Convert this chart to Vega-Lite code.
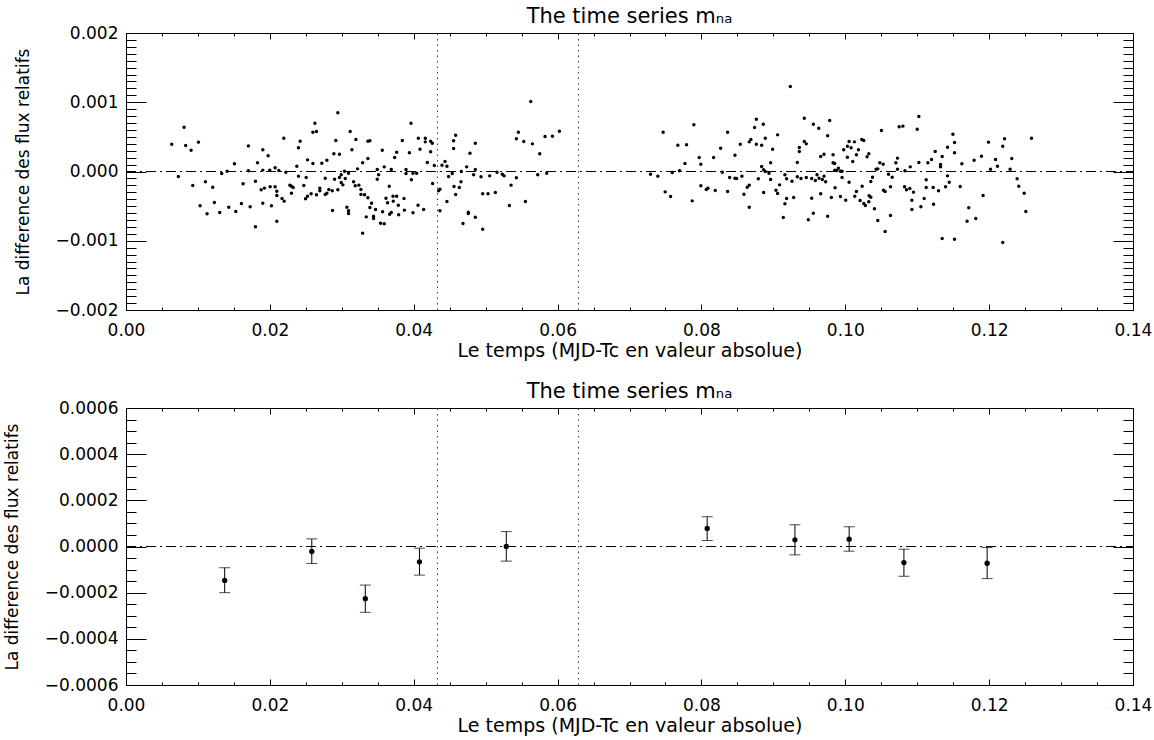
{
  "$schema": "https://vega.github.io/schema/vega-lite/v6.json",
  "padding": {"left": 2, "top": 5, "right": 18, "bottom": 0},
  "config": {
    "font": "DejaVu Sans",
    "view": {"stroke": "black", "strokeWidth": 1},
    "axis": {"domainColor": "black", "tickColor": "black", "labelColor": "black", "titleColor": "black", "labelFont": "DejaVu Sans", "titleFont": "DejaVu Sans", "labelFontSize": 17, "titleFontSize": 17, "titleFontWeight": "normal", "grid": false, "labelFlush": false, "labelOverlap": false, "labelBound": false},
    "axisX": {"titleFontSize": 19},
    "title": {"font": "DejaVu Sans", "fontSize": 21, "fontWeight": "normal", "color": "black", "offset": -3}
  },
  "spacing": 19,
  "datasets": {
    "top": [
      {"t":0.00636,"d":0.000395},{"t":0.00807,"d":0.00064},{"t":0.0083,"d":0.000375},{"t":0.00905,"d":0.000308},{"t":0.01007,"d":0.000424},{"t":0.00728,"d":-0.000072},{"t":0.00928,"d":-0.000202},{"t":0.0103,"d":-0.000496},{"t":0.01104,"d":-0.000149},{"t":0.01127,"d":-0.000611},{"t":0.01206,"d":-0.000226},{"t":0.01229,"d":-0.000448},{"t":0.01303,"d":-0.000592},{"t":0.01331,"d":-0.000029},{"t":0.01406,"d":0.000005},{"t":0.01429,"d":-0.000515},{"t":0.01508,"d":0.000111},{"t":0.01526,"d":-0.000578},{"t":0.01605,"d":-0.000462},{"t":0.01628,"d":-0.000178},{"t":0.01702,"d":0.00037},{"t":0.01702,"d":0.00001},{"t":0.01726,"d":-0.00051},{"t":0.018,"d":-0.000799},{"t":0.018,"d":-0.00014},{"t":0.01828,"d":0.000125},{"t":0.01879,"d":-0.000265},{"t":0.01902,"d":0.000313},{"t":0.01902,"d":0.00002},{"t":0.01902,"d":-0.000457},{"t":0.01925,"d":-0.00024},{"t":0.01976,"d":0.000226},{"t":0.01999,"d":0.00002},{"t":0.02004,"d":-0.000221},{"t":0.02022,"d":-0.000496},{"t":0.02073,"d":0.000053},{"t":0.02073,"d":-0.000221},{"t":0.02097,"d":-0.000284},{"t":0.02097,"d":-0.000347},{"t":0.02097,"d":-0.000717},{"t":0.02125,"d":0.000014},{"t":0.02169,"d":-0.00039},{"t":0.02194,"d":0.000481},{"t":0.02199,"d":-0.000428},{"t":0.02222,"d":-0.00001},{"t":0.02278,"d":-0.000197},{"t":0.023,"d":-0.000313},{"t":0.023,"d":-0.000212},{"t":0.02324,"d":-0.000231},{"t":0.02375,"d":0.000077},{"t":0.02398,"d":0.000342},{"t":0.02398,"d":-0.000067},{"t":0.02421,"d":0.000438},{"t":0.02472,"d":-0.000202},{"t":0.02496,"d":-0.000395},{"t":0.02505,"d":-0.000087},{"t":0.02524,"d":0.000168},{"t":0.02524,"d":-0.000356},
      {"t":0.02574,"d":-0.000322},{"t":0.02626,"d":0.000698},{"t":0.02598,"d":0.000568},{"t":0.02648,"d":0.000578},{"t":0.02598,"d":0.000116},{"t":0.02695,"d":-0.000241},{"t":0.02695,"d":-0.000279},{"t":0.02648,"d":-0.000337},{"t":0.02723,"d":0.00012},{"t":0.0277,"d":-0.000096},{"t":0.0277,"d":-0.000332},{"t":0.02793,"d":0.000164},{"t":0.02793,"d":-0.000313},{"t":0.0282,"d":-0.00026},{"t":0.02867,"d":-0.000279},{"t":0.02871,"d":-0.000563},{"t":0.0289,"d":0.000255},{"t":0.02899,"d":-0.000111},{"t":0.02917,"d":0.000448},{"t":0.02945,"d":0.000847},{"t":0.02945,"d":-0.000265},{"t":0.02968,"d":0.00025},{"t":0.02968,"d":-0.000087},{"t":0.02992,"d":-0.000048},{"t":0.02992,"d":-0.000159},{"t":0.03015,"d":-0.000193},{"t":0.03039,"d":0.000005},{"t":0.03048,"d":-0.000101},{"t":0.03071,"d":-0.000515},{"t":0.03094,"d":-0.000568},{"t":0.03094,"d":-0.000606},{"t":0.03094,"d":-0.000024},{"t":0.03117,"d":0.000578},{"t":0.03141,"d":0.000313},{"t":0.03164,"d":-0.000149},{"t":0.03187,"d":-0.000207},{"t":0.03196,"d":0.000462},{"t":0.03219,"d":0.000038},{"t":0.03238,"d":-0.000197},{"t":0.03266,"d":-0.00026},{"t":0.03266,"d":-0.000332},{"t":0.0329,"d":0.000125},{"t":0.0329,"d":-0.00089},{"t":0.03317,"d":-0.000337},{"t":0.0334,"d":-0.000655},{"t":0.03363,"d":0.000438},{"t":0.03363,"d":0.000188},{"t":0.03363,"d":-0.00038},{"t":0.03391,"d":0.000443},{"t":0.03391,"d":-0.00052},{"t":0.03414,"d":-0.000457},{"t":0.03442,"d":-0.000645},{"t":0.03442,"d":-0.000679},{"t":0.0347,"d":-0.000549},{"t":0.03493,"d":0.000029},{"t":0.03493,"d":-0.000111},{"t":0.03512,"d":-0.000048},{"t":0.0354,"d":-0.000746},{"t":0.03563,"d":0.000308},{"t":0.03567,"d":-0.000582},{"t":0.0359,"d":-0.000756},{"t":0.0359,"d":0.000067},{"t":0.03614,"d":-0.000385},{"t":0.03637,"d":-0.000452},{"t":0.0366,"d":-0.000212},{"t":0.03665,"d":-0.000616},{"t":0.03688,"d":-0.000592},{"t":0.03688,"d":0.000029},{"t":0.03712,"d":-0.000356},{"t":0.03716,"d":-0.000428},{"t":0.03735,"d":0.000202},{"t":0.03763,"d":0.000279},{"t":0.03763,"d":-0.000356},{"t":0.03786,"d":-0.000486},{"t":0.03791,"d":-0.000626},{"t":0.03842,"d":0.000448},{"t":0.03865,"d":-0.00039},{"t":0.0387,"d":-0.000558},{"t":0.03893,"d":0.000029},{"t":0.03893,"d":-0.000029},{"t":0.0394,"d":0.00027},{"t":0.03962,"d":0.000698},{"t":0.03967,"d":-0.00012},{"t":0.0399,"d":-0.000597},{"t":0.0399,"d":-0.000024},{"t":0.04041,"d":-0.000024},{"t":0.0406,"d":-0.000486},{"t":0.04064,"d":0.000481},{"t":0.04087,"d":0.000322},{"t":0.04138,"d":-0.000549},{"t":0.04161,"d":0.000481},{"t":0.04161,"d":0.000428},{"t":0.04189,"d":0.00013},{"t":0.04235,"d":0.000438},{"t":0.04235,"d":0.000284},{"t":0.04258,"d":0.000409},{"t":0.04263,"d":-0.000173},{"t":0.04286,"d":0.000087},{"t":0.04346,"d":-0.000279},{"t":0.04365,"d":-0.000255},{"t":0.04365,"d":-0.000568},{"t":0.04393,"d":0.000091},{"t":0.04435,"d":0.000144},{"t":0.04462,"d":0.000077},{"t":0.04462,"d":-0.000433},{"t":0.04485,"d":-0.000072},{"t":0.04536,"d":-0.000029},{"t":0.04555,"d":0.000332},{"t":0.04555,"d":0.000443},{"t":0.04583,"d":0.000525},{"t":0.0456,"d":-0.000217},{"t":0.04583,"d":-0.000332},{"t":0.04634,"d":-0.000231},{"t":0.04657,"d":-0.000149},{"t":0.04662,"d":0},{"t":0.04685,"d":-0.000751},{"t":0.04736,"d":0.000067},{"t":0.04759,"d":-0.000587},{"t":0.04759,"d":-0.000606},{"t":0.04782,"d":0.000265},{"t":0.04833,"d":-0.000048},{"t":0.04856,"d":-0.00066},{"t":0.04856,"d":0.000409},{"t":0.04856,"d":0.000029},
      {"t":0.04936,"d":-0.000077},{"t":0.04959,"d":-0.000322},{"t":0.04959,"d":-0.000833},{"t":0.05033,"d":-0.000322},{"t":0.05056,"d":-0.000063},{"t":0.05135,"d":-0.000303},{"t":0.05158,"d":-0.00001},{"t":0.05232,"d":-0.000039},{"t":0.05256,"d":-0.000063},{"t":0.0533,"d":-0.000491},{"t":0.05353,"d":-0.000197},{"t":0.05427,"d":0.000472},{"t":0.05427,"d":-0.000091},{"t":0.05455,"d":0.000568},{"t":0.0553,"d":0.000433},{"t":0.05553,"d":-0.000433},{"t":0.05627,"d":0.00101},{"t":0.0565,"d":0.000399},{"t":0.05724,"d":-0.000048},{"t":0.05752,"d":0.000255},{"t":0.05826,"d":0.000505},{"t":0.05849,"d":-0.000024},{"t":0.05928,"d":0.00051},{"t":0.06025,"d":0.000582},
      {"t":0.07292,"d":-0.000039},{"t":0.07394,"d":-0.000067},{"t":0.07468,"d":0.000568},{"t":0.07496,"d":-0.000294},{"t":0.07571,"d":-0.000361},{"t":0.07594,"d":-0.000014},{"t":0.07672,"d":0.00038},{"t":0.07696,"d":0.00001},{"t":0.07771,"d":0.000116},{"t":0.07793,"d":0.000385},{"t":0.07872,"d":-0.000424},{"t":0.07895,"d":0.000674},{"t":0.07969,"d":0.000202},{"t":0.07992,"d":0.000106},{"t":0.07992,"d":-0.000207},{"t":0.08067,"d":-0.00026},{"t":0.0809,"d":-0.000241},{"t":0.08169,"d":0.000202},{"t":0.08192,"d":-0.000274},{"t":0.08267,"d":0.000337},{"t":0.0829,"d":-0.00001},{"t":0.08364,"d":0.000568},{"t":0.08364,"d":-0.000289},{"t":0.08392,"d":-0.000087},{"t":0.08466,"d":0.000236},{"t":0.08466,"d":-0.000096},{"t":0.08489,"d":-0.000101},{"t":0.0854,"d":0.000395},{"t":0.08563,"d":-0.000067},{"t":0.08591,"d":-0.000327},{"t":0.08637,"d":-0.000226},{"t":0.08665,"d":-0.000515},{"t":0.08665,"d":0.000428},{"t":0.08665,"d":-0.000197},{"t":0.08688,"d":0.000462},{"t":0.08739,"d":0.000635},{"t":0.08763,"d":0.000756},{"t":0.08763,"d":0.000395},{"t":0.08791,"d":-0.000106},{"t":0.08837,"d":0.00038},{"t":0.08837,"d":0.000072},{"t":0.0886,"d":0.000683},{"t":0.08865,"d":-0.000303},{"t":0.08865,"d":0.000024},{"t":0.08888,"d":0.000481},{"t":0.08888,"d":0},{"t":0.08939,"d":-0.000024},{"t":0.08962,"d":0.000125},{"t":0.08962,"d":-0.000116},{"t":0.0899,"d":0.000322},{"t":0.09036,"d":-0.00027},{"t":0.09059,"d":0.000529},{"t":0.09059,"d":-0.000318},{"t":0.09087,"d":-0.000193},{"t":0.09138,"d":-0.000664},{"t":0.09161,"d":-0.000048},{"t":0.09161,"d":-0.000467},{"t":0.09184,"d":-0.000106},{"t":0.09184,"d":-0.00039},{"t":0.09236,"d":0.001227},{"t":0.09259,"d":-0.00014},{"t":0.09282,"d":-0.000375},{"t":0.09333,"d":0.00013},{"t":0.09333,"d":-0.000077},{"t":0.09361,"d":0.000289},{"t":0.09361,"d":0.000347},{"t":0.09384,"d":-0.000101},{"t":0.0943,"d":0.000433},{"t":0.0943,"d":0.00077},{"t":0.09458,"d":0.000399},{"t":0.09458,"d":-0.000087},{"t":0.09486,"d":-0.000698},{"t":0.09533,"d":-0.000385},{"t":0.09533,"d":-0.000101},{"t":0.09556,"d":0.000683},{"t":0.09556,"d":-0.000602},{"t":0.09584,"d":-0.00013},{"t":0.09607,"d":-0.000048},{"t":0.09631,"d":0.000626},{"t":0.09635,"d":-0.000096},
      {"t":0.09658,"d":0.000217},{"t":0.09658,"d":-0.000322},{"t":0.09681,"d":-0.000116},{"t":0.09704,"d":0.00025},{"t":0.09704,"d":-0.000067},{"t":0.09727,"d":-0.000149},{"t":0.09755,"d":0.000515},{"t":0.09755,"d":-0.000645},{"t":0.09783,"d":0.000736},{"t":0.09806,"d":-0.000375},{"t":0.0983,"d":0.000241},{"t":0.0983,"d":0.000125},{"t":0.09853,"d":0.000116},{"t":0.09853,"d":0.000019},{"t":0.09858,"d":-0.000236},{"t":0.09881,"d":0.000014},{"t":0.09904,"d":0.000048},{"t":0.09932,"d":-0.000361},{"t":0.09932,"d":0.000005},{"t":0.09955,"d":-0.000087},{"t":0.09955,"d":0.000005},{"t":0.09978,"d":0.000313},{"t":0.10006,"d":-0.000414},{"t":0.10029,"d":0.000366},{"t":0.10029,"d":0.000207},{"t":0.10053,"d":-0.000154},{"t":0.10053,"d":0.000433},{"t":0.10081,"d":0.000342},{"t":0.10104,"d":0.000144},{"t":0.10127,"d":0.000428},{"t":0.10132,"d":-0.000356},{"t":0.10155,"d":-0.000289},{"t":0.10155,"d":0.000241},{"t":0.10183,"d":0.000313},{"t":0.10206,"d":-0.000419},{"t":0.10229,"d":0.000462},{"t":0.10234,"d":-0.000212},{"t":0.10257,"d":0.000448},{"t":0.10257,"d":-0.000462},{"t":0.1028,"d":-0.000491},{"t":0.10303,"d":0.000212},{"t":0.10327,"d":0.000255},{"t":0.10327,"d":-0.000438},{"t":0.10332,"d":-0.000351},{"t":0.10355,"d":-0.000371},{"t":0.10355,"d":-0.000144},{"t":0.10378,"d":-0.000082},{"t":0.10406,"d":-0.000539},{"t":0.10429,"d":0.000034},{"t":0.10452,"d":0.000038},{"t":0.10452,"d":-0.000708},{"t":0.1048,"d":0.000125},{"t":0.10503,"d":0.000592},{"t":0.10527,"d":0.000106},{"t":0.10531,"d":-0.00027},{"t":0.10554,"d":-0.000289},{"t":0.10554,"d":-0.000866},{"t":0.10601,"d":-0.000039},{"t":0.10629,"d":-0.000221},{"t":0.10629,"d":-0.000635},{"t":0.10652,"d":-0.000082},{"t":0.10703,"d":0.000125},{"t":0.10726,"d":0.000193},{"t":0.10726,"d":0.000034},{"t":0.10749,"d":0.000645},{"t":0.10801,"d":0.000655},{"t":0.10824,"d":-0.000221},{"t":0.10829,"d":0.00001},{"t":0.10851,"d":-0.000265},{"t":0.10898,"d":-0.000245},{"t":0.10903,"d":0.000067},{"t":0.10926,"d":-0.000414},{"t":0.10926,"d":-0.000549},{"t":0.10949,"d":-0.000298},{"t":0.11,"d":0.000611},{"t":0.11023,"d":0.000794},{"t":0.11023,"d":0.00013},{"t":0.11051,"d":-0.00051},{"t":0.11097,"d":-0.00039},{"t":0.11125,"d":-0.00012},{"t":0.11125,"d":-0.000231},{"t":0.11148,"d":0.000125},{"t":0.11199,"d":0.000173},{"t":0.11222,"d":-0.000231},{"t":0.11227,"d":-0.000472},{"t":0.1125,"d":0.000289},{"t":0.11296,"d":-0.000279},{"t":0.11324,"d":0.000101},{"t":0.11324,"d":0.000067},{"t":0.11347,"d":0.000217},{"t":0.11347,"d":-0.000967},{"t":0.11394,"d":-0.000221},{"t":0.11422,"d":0.000351},{"t":0.11422,"d":-0.000063},{"t":0.11445,"d":-0.000154},{"t":0.11496,"d":0.000539},{"t":0.11519,"d":0.000419},{"t":0.11519,"d":0.00027},{"t":0.11519,"d":-0.000977},{"t":0.11598,"d":-0.000217},{"t":0.11621,"d":0.000111},{"t":0.11694,"d":-0.000717},{"t":0.11717,"d":-0.000525},{"t":0.11791,"d":0.000164},{"t":0.11814,"d":-0.000679},{"t":0.11893,"d":0.000221},{"t":0.11916,"d":-0.000347},{"t":0.11991,"d":0.000424},
      {"t":0.12019,"d":0.000034},{"t":0.12089,"d":0.000173},{"t":0.12116,"d":0.000077},{"t":0.12189,"d":0.000366},{"t":0.12189,"d":-0.001025},{"t":0.12214,"d":0.000472},{"t":0.12292,"d":0.000034},{"t":0.12315,"d":0.000188},{"t":0.12389,"d":-0.000106},{"t":0.12412,"d":-0.000212},{"t":0.12487,"d":-0.000313},{"t":0.1251,"d":-0.000578},{"t":0.12589,"d":0.000481}
    ],
    "bot": [
      {"t":0.01372,"m":-0.000147,"lo":-0.0002,"hi":-0.000092},
      {"t":0.02583,"m":-0.0000216,"lo":-0.0000734,"hi":0.000033},
      {"t":0.03327,"m":-0.000226,"lo":-0.000285,"hi":-0.000167},
      {"t":0.0408,"m":-0.0000662,"lo":-0.000124,"hi":-0.0000072},
      {"t":0.05287,"m":0.0,"lo":-0.0000633,"hi":0.0000647},
      {"t":0.0808,"m":0.0000783,"lo":0.0000261,"hi":0.000129},
      {"t":0.093,"m":0.000029,"lo":-0.0000362,"hi":0.0000942},
      {"t":0.10054,"m":0.0000319,"lo":-0.0000203,"hi":0.0000855},
      {"t":0.10815,"m":-0.0000696,"lo":-0.000129,"hi":-0.0000116},
      {"t":0.11972,"m":-0.0000725,"lo":-0.000139,"hi":-0.0000043}
    ],
    "zeroline": [{"x0":0,"x1":0.14,"z":0}],
    "vlinesTop": [{"v":0.0433,"lo":-0.002,"hi":0.002},{"v":0.0629,"lo":-0.002,"hi":0.002}],
    "vlinesBot": [{"v":0.0433,"lo":-0.0006,"hi":0.0006},{"v":0.0629,"lo":-0.0006,"hi":0.0006}]
  },
  "vconcat": [
    {
      "width": 1007,
      "height": 277,
      "title": {"text": "The time series mₙₐ"},
      "resolve": {"axis": {"x": "independent", "y": "independent"}},
      "layer": [
        {
          "data": {"name": "top"},
          "mark": {"type": "circle", "size": 12, "color": "black", "opacity": 1},
          "encoding": {
            "x": {"field": "t", "type": "quantitative", "scale": {"domain": [0, 0.14], "nice": false, "zero": false},
              "axis": {"orient": "bottom", "values": [0,0.02,0.04,0.06,0.08,0.1,0.12,0.14], "format": ".2f", "ticks": false, "domain": false, "labelPadding": 12, "title": "Le temps (MJD-Tc en valeur absolue)", "titlePadding": 3}},
            "y": {"field": "d", "type": "quantitative", "scale": {"domain": [-0.002, 0.002], "nice": false, "zero": false},
              "axis": {"orient": "left", "values": [-0.002,-0.001,0,0.001,0.002], "format": ".3f", "ticks": false, "domain": false, "labelPadding": 8, "title": "La difference des flux relatifs", "titlePadding": 23}}
          }
        },
        {
          "data": {"name": "zeroline"},
          "mark": {"type": "rule", "color": "black", "strokeWidth": 1, "strokeDash": [10, 4, 2, 4]},
          "encoding": {
            "x": {"field": "x0", "type": "quantitative",
              "axis": {"orient": "bottom", "values": [0,0.005,0.01,0.015,0.02,0.025,0.03,0.035,0.04,0.045,0.05,0.055,0.06,0.065,0.07,0.075,0.08,0.085,0.09,0.095,0.1,0.105,0.11,0.115,0.12,0.125,0.13,0.135,0.14], "labels": false, "title": null, "domain": true,
                "tickSize": {"condition": {"test": "abs(datum.value*50 - round(datum.value*50)) < 0.01", "value": -6}, "value": -3}}},
            "x2": {"field": "x1"},
            "y": {"field": "z", "type": "quantitative",
              "axis": {"orient": "left", "values": [-0.002,-0.0019,-0.0018,-0.0017,-0.0016,-0.0015,-0.0014,-0.0013,-0.0012,-0.0011,-0.001,-0.0009,-0.0008,-0.0007,-0.0006,-0.0005,-0.0004,-0.0003,-0.0002,-0.0001,0,0.0001,0.0002,0.0003,0.0004,0.0005,0.0006,0.0007,0.0008,0.0009,0.001,0.0011,0.0012,0.0013,0.0014,0.0015,0.0016,0.0017,0.0018,0.0019,0.002], "labels": false, "title": null, "domain": true,
                "tickSize": {"condition": {"test": "abs(datum.value*1000 - round(datum.value*1000)) < 0.01", "value": -20}, "value": -10}}}
          }
        },
        {
          "data": {"name": "vlinesTop"},
          "mark": {"type": "rule", "color": "#333333", "strokeWidth": 1, "strokeDash": [1.5, 4]},
          "encoding": {
            "x": {"field": "v", "type": "quantitative",
              "axis": {"orient": "top", "values": [0,0.005,0.01,0.015,0.02,0.025,0.03,0.035,0.04,0.045,0.05,0.055,0.06,0.065,0.07,0.075,0.08,0.085,0.09,0.095,0.1,0.105,0.11,0.115,0.12,0.125,0.13,0.135,0.14], "labels": false, "title": null, "domain": true,
                "tickSize": {"condition": {"test": "abs(datum.value*50 - round(datum.value*50)) < 0.01", "value": -6}, "value": -3}}},
            "y": {"field": "lo", "type": "quantitative",
              "axis": {"orient": "right", "values": [-0.002,-0.0019,-0.0018,-0.0017,-0.0016,-0.0015,-0.0014,-0.0013,-0.0012,-0.0011,-0.001,-0.0009,-0.0008,-0.0007,-0.0006,-0.0005,-0.0004,-0.0003,-0.0002,-0.0001,0,0.0001,0.0002,0.0003,0.0004,0.0005,0.0006,0.0007,0.0008,0.0009,0.001,0.0011,0.0012,0.0013,0.0014,0.0015,0.0016,0.0017,0.0018,0.0019,0.002], "labels": false, "title": null, "domain": true,
                "tickSize": {"condition": {"test": "abs(datum.value*1000 - round(datum.value*1000)) < 0.01", "value": -20}, "value": -10}}},
            "y2": {"field": "hi"}
          }
        }
      ]
    },
    {
      "width": 1007,
      "height": 277,
      "title": {"text": "The time series mₙₐ"},
      "resolve": {"axis": {"x": "independent", "y": "independent"}},
      "layer": [
        {
          "data": {"name": "bot"},
          "mark": {"type": "circle", "size": 28, "color": "black", "opacity": 1},
          "encoding": {
            "x": {"field": "t", "type": "quantitative", "scale": {"domain": [0, 0.14], "nice": false, "zero": false},
              "axis": {"orient": "bottom", "values": [0,0.02,0.04,0.06,0.08,0.1,0.12,0.14], "format": ".2f", "ticks": false, "domain": false, "labelPadding": 12, "title": "Le temps (MJD-Tc en valeur absolue)", "titlePadding": 3}},
            "y": {"field": "m", "type": "quantitative", "scale": {"domain": [-0.0006, 0.0006], "nice": false, "zero": false},
              "axis": {"orient": "left", "values": [-0.0006,-0.0004,-0.0002,0,0.0002,0.0004,0.0006], "format": ".4f", "ticks": false, "domain": false, "labelPadding": 8, "title": "La difference des flux relatifs", "titlePadding": 23}}
          }
        },
        {
          "data": {"name": "bot"},
          "mark": {"type": "rule", "color": "black", "strokeWidth": 1},
          "encoding": {
            "x": {"field": "t", "type": "quantitative",
              "axis": {"orient": "bottom", "values": [0,0.005,0.01,0.015,0.02,0.025,0.03,0.035,0.04,0.045,0.05,0.055,0.06,0.065,0.07,0.075,0.08,0.085,0.09,0.095,0.1,0.105,0.11,0.115,0.12,0.125,0.13,0.135,0.14], "labels": false, "title": null, "domain": true,
                "tickSize": {"condition": {"test": "abs(datum.value*50 - round(datum.value*50)) < 0.01", "value": -6}, "value": -3}}},
            "y": {"field": "lo", "type": "quantitative",
              "axis": {"orient": "left", "values": [-0.0006,-0.00055,-0.0005,-0.00045,-0.0004,-0.00035,-0.0003,-0.00025,-0.0002,-0.00015,-0.0001,-0.00005,0,0.00005,0.0001,0.00015,0.0002,0.00025,0.0003,0.00035,0.0004,0.00045,0.0005,0.00055,0.0006], "labels": false, "title": null, "domain": true,
                "tickSize": {"condition": {"test": "abs(datum.value*5000 - round(datum.value*5000)) < 0.01", "value": -20}, "value": -10}}},
            "y2": {"field": "hi"}
          }
        },
        {
          "data": {"name": "bot"},
          "mark": {"type": "tick", "orient": "horizontal", "color": "black", "size": 11, "thickness": 1},
          "encoding": {
            "x": {"field": "t", "type": "quantitative",
              "axis": {"orient": "top", "values": [0,0.005,0.01,0.015,0.02,0.025,0.03,0.035,0.04,0.045,0.05,0.055,0.06,0.065,0.07,0.075,0.08,0.085,0.09,0.095,0.1,0.105,0.11,0.115,0.12,0.125,0.13,0.135,0.14], "labels": false, "title": null, "domain": true,
                "tickSize": {"condition": {"test": "abs(datum.value*50 - round(datum.value*50)) < 0.01", "value": -6}, "value": -3}}},
            "y": {"field": "lo", "type": "quantitative",
              "axis": {"orient": "right", "values": [-0.0006,-0.00055,-0.0005,-0.00045,-0.0004,-0.00035,-0.0003,-0.00025,-0.0002,-0.00015,-0.0001,-0.00005,0,0.00005,0.0001,0.00015,0.0002,0.00025,0.0003,0.00035,0.0004,0.00045,0.0005,0.00055,0.0006], "labels": false, "title": null, "domain": true,
                "tickSize": {"condition": {"test": "abs(datum.value*5000 - round(datum.value*5000)) < 0.01", "value": -20}, "value": -10}}}
          }
        },
        {
          "data": {"name": "bot"},
          "mark": {"type": "tick", "orient": "horizontal", "color": "black", "size": 11, "thickness": 1},
          "encoding": {
            "x": {"field": "t", "type": "quantitative", "axis": null},
            "y": {"field": "hi", "type": "quantitative", "axis": null}
          }
        },
        {
          "data": {"name": "zeroline"},
          "mark": {"type": "rule", "color": "black", "strokeWidth": 1, "strokeDash": [10, 4, 2, 4]},
          "encoding": {
            "x": {"field": "x0", "type": "quantitative", "axis": null},
            "x2": {"field": "x1"},
            "y": {"field": "z", "type": "quantitative", "axis": null}
          }
        },
        {
          "data": {"name": "vlinesBot"},
          "mark": {"type": "rule", "color": "#333333", "strokeWidth": 1, "strokeDash": [1.5, 4]},
          "encoding": {
            "x": {"field": "v", "type": "quantitative", "axis": null},
            "y": {"field": "lo", "type": "quantitative", "axis": null},
            "y2": {"field": "hi"}
          }
        }
      ]
    }
  ]
}
